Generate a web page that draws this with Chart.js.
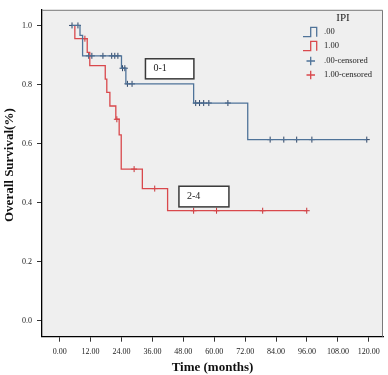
<!DOCTYPE html>
<html>
<head>
<meta charset="utf-8">
<script src="https://cdn.jsdelivr.net/npm/chart.js@4.4.0/dist/chart.umd.min.js"></script>
<style>
  html, body { margin: 0; padding: 0; background: #fff; }
</style>
</head>
<body>
<canvas id="km" width="388" height="375"></canvas>
<script>
// IPI group ".00" (0-1): step times (months) and survival after each step
const lowTimes = [4.6, 7.9, 8.9, 24.0, 25.7, 52.0, 73.0, 119.2];
const lowSurv = [1.0, 0.966, 0.897, 0.855, 0.802, 0.737, 0.613, 0.613];
const lowCensored = [4.8, 7.1, 11.3, 12.5, 16.8, 20.2, 21.4, 22.6, 24.4, 25.3, 26.3, 28.1,
  52.8, 54.3, 55.9, 57.9, 65.3, 81.7, 87.0, 92.0, 97.9, 119.2];

// IPI group "1.00" (2-4)
const highTimes = [5.9, 5.9, 10.7, 11.7, 17.7, 18.3, 19.5, 21.8, 23.1, 23.9, 32.1, 41.9, 95.9];
const highSurv = [1.0, 0.955, 0.909, 0.864, 0.818, 0.773, 0.727, 0.682, 0.629, 0.513, 0.447, 0.372, 0.372];
const highCensored = [9.8, 22.2, 28.9, 36.9, 52.0, 60.9, 78.8, 95.9];

const seriesLabels = ['.00', '1.00', '.00-censored', '1.00-censored'];
const xTickValues = [0, 12, 24, 36, 48, 60, 72, 84, 96, 108, 120];
const yTickValues = [0, 0.2, 0.4, 0.6, 0.8, 1.0];

const BLUE = '#4f7399';
const RED = '#d9484c';
const BLUE_MARK = '#2c4466';
const RED_MARK = '#c83236';
const SERIF = '"Liberation Serif", "DejaVu Serif", serif';

function survAt(times, surv, t) {
  let s = surv[0];
  for (let i = 0; i < times.length; i++) {
    if (times[i] <= t) s = surv[i];
  }
  return s;
}

const toPoints = (xs, ys) => xs.map((x, i) => ({ x: x, y: ys[i] }));
const censorPoints = (cs, times, surv) => cs.map(t => ({ x: t, y: survAt(times, surv, t) }));

// plot background + top/right frame
const plotFrame = {
  id: 'plotFrame',
  beforeDraw(chart) {
    const { ctx, chartArea: { left, right, top, bottom } } = chart;
    ctx.save();
    ctx.fillStyle = '#efefef';
    ctx.fillRect(left, top, right - left, bottom - top);
    ctx.restore();
  },
  afterDraw(chart) {
    const { ctx, chartArea: { left, right, top, bottom } } = chart;
    ctx.save();
    ctx.strokeStyle = '#7a7a7a';
    ctx.lineWidth = 1;
    ctx.beginPath();
    ctx.moveTo(left, top + 0.5);
    ctx.lineTo(right - 0.5, top + 0.5);
    ctx.lineTo(right - 0.5, bottom);
    ctx.stroke();
    ctx.restore();
  }
};

// the "0-1" / "2-4" text boxes, placed in data units
const groupBoxes = {
  id: 'groupBoxes',
  afterDatasetsDraw(chart, args, opts) {
    const { ctx, scales: { x, y } } = chart;
    ctx.save();
    opts.boxes.forEach(b => {
      const x0 = x.getPixelForValue(b.x0), x1 = x.getPixelForValue(b.x1);
      const y0 = y.getPixelForValue(b.y0), y1 = y.getPixelForValue(b.y1);
      ctx.fillStyle = '#ffffff';
      ctx.fillRect(x0, y0, x1 - x0, y1 - y0);
      ctx.strokeStyle = '#3a3a3a';
      ctx.lineWidth = 1.5;
      ctx.strokeRect(x0, y0, x1 - x0, y1 - y0);
      ctx.fillStyle = '#222';
      ctx.font = '10px ' + SERIF;
      ctx.textAlign = 'left';
      ctx.textBaseline = 'middle';
      ctx.fillText(b.text, x0 + 8, (y0 + y1) / 2);
    });
    ctx.restore();
  }
};

// SPSS-like legend in the upper right
const ipiLegend = {
  id: 'ipiLegend',
  afterDraw(chart) {
    const { ctx } = chart;
    const ds = chart.data.datasets;
    ctx.save();
    ctx.fillStyle = '#222';
    ctx.font = '11px ' + SERIF;
    ctx.textAlign = 'center';
    ctx.textBaseline = 'middle';
    ctx.fillText('IPI', 343, 18);
    const rows = [32, 46, 61, 75];
    ctx.font = '8.5px ' + SERIF;
    ctx.textAlign = 'left';
    ds.forEach((d, i) => {
      const yy = rows[i];
      ctx.strokeStyle = d.borderColor;
      ctx.lineWidth = 1.3;
      ctx.beginPath();
      if (d.type === 'line') {
        ctx.moveTo(303, yy + 4.7);
        ctx.lineTo(310.7, yy + 4.7);
        ctx.lineTo(310.7, yy - 4.7);
        ctx.lineTo(316.7, yy - 4.7);
        ctx.lineTo(316.7, yy + 4.7);
      } else {
        ctx.strokeStyle = i === 2 ? BLUE : RED;
        ctx.moveTo(306.5, yy);
        ctx.lineTo(315, yy);
        ctx.moveTo(310.7, yy - 4.2);
        ctx.lineTo(310.7, yy + 4.2);
      }
      ctx.stroke();
      ctx.fillStyle = '#222';
      ctx.fillText(d.label, 324, yy);
    });
    ctx.restore();
  }
};

const tickFont = { family: SERIF, size: 8 };

new Chart(document.getElementById('km').getContext('2d'), {
  data: {
    datasets: [
      {
        type: 'line', label: seriesLabels[0], data: toPoints(lowTimes, lowSurv),
        borderColor: BLUE, borderWidth: 1.3, stepped: true, pointRadius: 0, fill: false
      },
      {
        type: 'line', label: seriesLabels[1], data: toPoints(highTimes, highSurv),
        borderColor: RED, borderWidth: 1.3, stepped: true, pointRadius: 0, fill: false
      },
      {
        type: 'scatter', label: seriesLabels[2], data: censorPoints(lowCensored, lowTimes, lowSurv),
        borderColor: BLUE_MARK, pointStyle: 'cross', pointRadius: 3, borderWidth: 1
      },
      {
        type: 'scatter', label: seriesLabels[3], data: censorPoints(highCensored, highTimes, highSurv),
        borderColor: RED_MARK, pointStyle: 'cross', pointRadius: 3, borderWidth: 1
      }
    ]
  },
  options: {
    responsive: false,
    devicePixelRatio: 1,
    animation: false,
    layout: { padding: { top: 2, right: 4, left: 0, bottom: 0 } },
    plugins: {
      legend: { display: false },
      tooltip: { enabled: false },
      groupBoxes: {
        boxes: [
          { text: '0-1', x0: 33.3, x1: 52.1, y0: 0.887, y1: 0.819 },
          { text: '2-4', x0: 46.3, x1: 65.7, y0: 0.455, y1: 0.385 }
        ]
      }
    },
    scales: {
      x: {
        type: 'linear', min: -6.85, max: 125.5,
        afterBuildTicks: s => { s.ticks = xTickValues.map(v => ({ value: v })); },
        afterFit: s => { s.height = 38.3; },
        ticks: { font: tickFont, color: '#222', padding: 5, maxRotation: 0, callback: v => v.toFixed(2) },
        grid: { drawOnChartArea: false, drawTicks: true, tickLength: 5, color: '#333' },
        border: { color: '#000', width: 1.3 },
        title: {
          display: true, text: 'Time (months)', color: '#111',
          font: { family: SERIF, size: 13, weight: 'bold' }, padding: { top: 0, bottom: 0 }
        }
      },
      y: {
        type: 'linear', min: -0.055, max: 1.053,
        afterBuildTicks: s => { s.ticks = yTickValues.map(v => ({ value: v })); },
        afterFit: s => { s.width = 42; },
        ticks: { font: tickFont, color: '#222', padding: 5, callback: v => v.toFixed(1) },
        grid: { drawOnChartArea: false, drawTicks: true, tickLength: 5, color: '#333' },
        border: { color: '#000', width: 1.3 },
        title: {
          // leading spaces nudge the rotated title a little upward, as in the original
          display: true, text: '     Overall Survival(%)', color: '#111',
          font: { family: SERIF, size: 13, weight: 'bold' }, padding: { top: 2, bottom: 0 }
        }
      }
    }
  },
  plugins: [plotFrame, groupBoxes, ipiLegend]
});
</script>
</body>
</html>
